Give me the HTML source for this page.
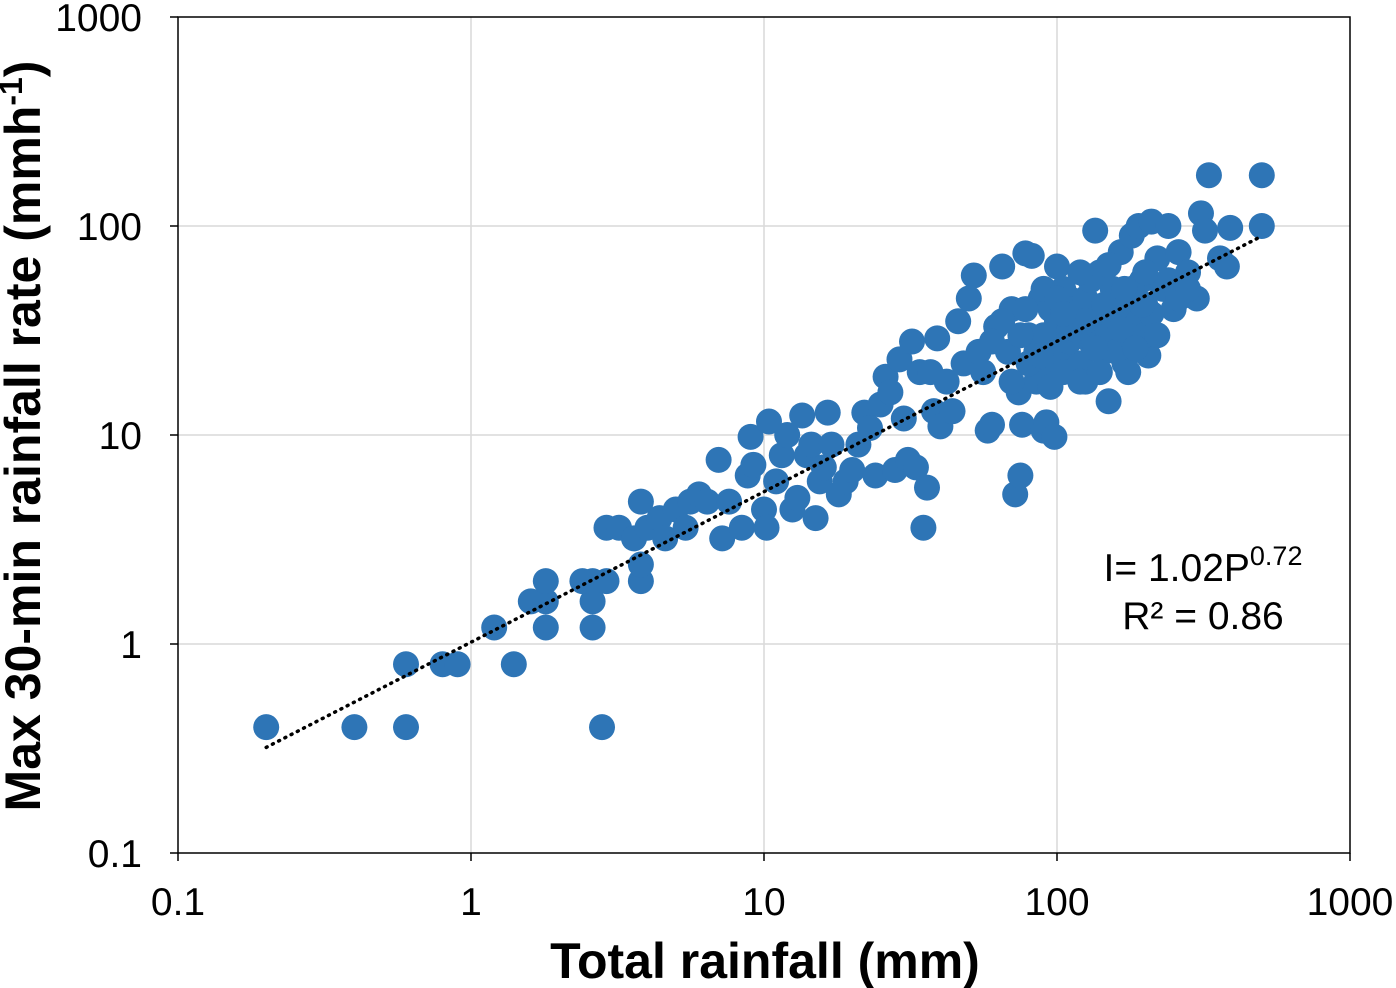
<!DOCTYPE html>
<html><head><meta charset="utf-8"><style>
body{margin:0;background:#fff;}
svg{display:block;font-family:"Liberation Sans",Arial,sans-serif;}
</style></head><body>
<svg id="chart" width="1396" height="988">
<g id="grid"></g>
<g id="axes"></g>
<g id="pts"></g>
<g id="trend"></g>
<text x="1203" y="581" font-size="39" text-anchor="middle">I= 1.02P<tspan font-size="27" dy="-16">0.72</tspan></text>
<text x="1203" y="629" font-size="39" text-anchor="middle">R² = 0.86</text>
<text x="765" y="978" font-size="50" font-weight="bold" text-anchor="middle">Total rainfall (mm)</text>
<text transform="translate(40,436) rotate(-90)" font-size="50" font-weight="bold" text-anchor="middle">Max 30-min rainfall rate (mmh<tspan font-size="32" dy="-18">-1</tspan><tspan dy="18">)</tspan></text>
</svg>
<script>
const xTicks=[0.1,1,10,100,1000];
const yTicks=[0.1,1,10,100,1000];
const xTickLabels=["0.1","1","10","100","1000"];
const yTickLabels=["0.1","1","10","100","1000"];
const totalRainfall=[0.2,0.4,0.6,2.8,0.6,0.8,0.9,1.4,1.2,1.8,2.6,1.6,1.8,2.6,1.8,2.4,2.6,2.9,3.8,3.8,2.9,3.2,3.6,4,4.4,3.8,4.6,5,5.4,5.6,6,6.4,7,7.2,7.6,8.4,8.8,9,9.2,10,10.2,10.4,11,11.5,12,12.5,13,13.5,14,14.5,15,15.5,16,16.5,17,18,19,20,21,22,23,24,25,26,27,28,29,30,31,32,33,34,35,36,37,38,39,40,42,44,46,48,50,52,54,56,58,60,62,65,68,70,72,74,75,76,78,80,82,85,88,90,92,95,98,100,100,105,110,115,120,125,130,135,140,145,150,155,160,165,170,175,180,185,190,195,200,205,210,220,230,240,250,260,280,300,310,320,330,360,380,390,500,500,90,95,100,105,110,115,120,125,130,140,150,160,170,180,190,200,210,220,85,95,105,120,140,160,175,80,75,70,65,60,90,130,150,120,110,100,240,260,280,150,200,170,115,135,155,175,195,125,145,165,185,105,88,78];
const maxRate=[0.4,0.4,0.4,0.4,0.8,0.8,0.8,0.8,1.2,1.2,1.2,1.6,1.6,1.6,2.0,2.0,2.0,2.0,2.0,2.4,3.6,3.6,3.2,3.6,4,4.8,3.2,4.4,3.6,4.8,5.2,4.8,7.6,3.2,4.8,3.6,6.4,9.8,7.2,4.4,3.6,11.6,6,8,10,4.4,5,12.4,8,9,4,6,7,12.8,9,5.2,6,6.8,9,12.8,10.8,6.4,14,19,16,6.8,23,12,7.6,28,7,20,3.6,5.6,20,13,29,11,18,13,35,22,45,58,25,20,10.5,11.2,33,64,25,40,5.2,16,6.4,11.2,74,30,72,25,45,10.5,11.5,20,9.8,64,35,28,45,22,30,18,38,95,60,25,14.5,50,35,75,22,40,90,30,100,55,42,24,105,70,50,100,40,75,60,45,115,95,175,70,64,98,175,100,30,40,25,50,33,40,22,45,28,35,30,45,28,50,35,30,38,30,18,17,20,18,20,25,20,22,30,18,35,28,50,55,65,60,28,45,55,45,50,40,60,50,32,26,36,30,42,35,42,32,26,38,24,40];
const fitCoef=1.02, fitExp=0.72, fitMin=0.2, fitMax=500;
const L=178,R=1350,T=17,B=853;
const sx=v=>L+(Math.log10(v)+1)/4*(R-L);
const sy=v=>B-(Math.log10(v)+1)/4*(B-T);
const NS="http://www.w3.org/2000/svg";
function mk(tag,attrs,parent){const e=document.createElementNS(NS,tag);for(const k in attrs)e.setAttribute(k,attrs[k]);document.getElementById(parent).appendChild(e);return e;}
xTicks.forEach((t,i)=>{
  if(i>0&&i<xTicks.length-1){const g=mk('line',{x1:sx(t),x2:sx(t),y1:T,y2:B,stroke:'#d9d9d9','stroke-width':1.5},'grid');
  
  }
  const tk=mk('line',{x1:sx(t),x2:sx(t),y1:B,y2:B+8,stroke:'#000','stroke-width':1.5},'axes');
  
  
  const lb=mk('text',{x:sx(t),y:B+62,'font-size':39,'text-anchor':'middle'},'axes');lb.textContent=xTickLabels[i];
  
  
});
yTicks.forEach((t,i)=>{
  if(i>0&&i<yTicks.length-1){const g=mk('line',{x1:L,x2:R,y1:sy(t),y2:sy(t),stroke:'#d9d9d9','stroke-width':1.5},'grid');
  
  }
  const tk=mk('line',{x1:L-8,x2:L,y1:sy(t),y2:sy(t),stroke:'#000','stroke-width':1.5},'axes');
  
  
  const lb=mk('text',{x:L-36,y:sy(t)+14,'font-size':39,'text-anchor':'end'},'axes');lb.textContent=yTickLabels[i];
  
  
});
const fr=mk('rect',{x:L,y:T,width:R-L,height:B-T,fill:'none',stroke:'#000','stroke-width':1.5},'axes');


totalRainfall.forEach((x,i)=>{
  const c=mk('circle',{cx:sx(x),cy:sy(maxRate[i]),r:13,fill:'#2e75b6'},'pts');
  
  
});
const pts=[];for(let k=0;k<=60;k++){const x=fitMin*Math.pow(fitMax/fitMin,k/60);pts.push(sx(x)+','+sy(fitCoef*Math.pow(x,fitExp)));}
const tl=mk('polyline',{points:pts.join(' '),fill:'none',stroke:'#000','stroke-width':3.5,'stroke-dasharray':'1 6','stroke-linecap':'round'},'trend');


</script>
</body></html>
